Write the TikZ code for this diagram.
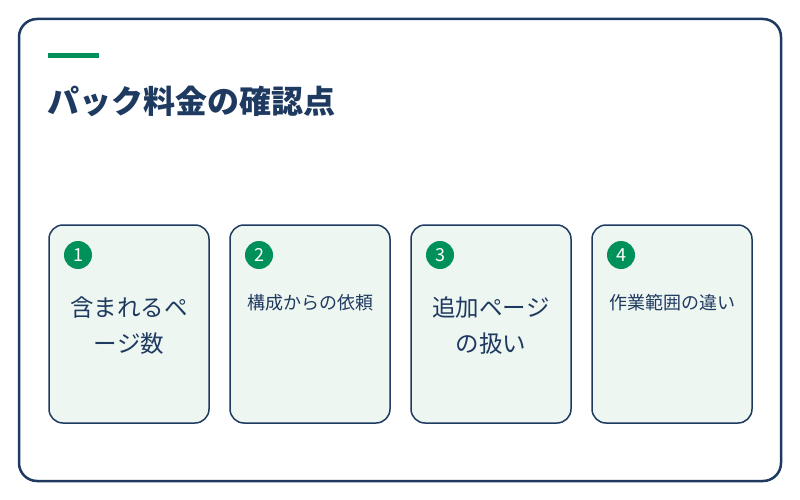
\documentclass[tikz,border=0pt]{standalone}
\usepackage{fontspec}
\setmainfont{Noto Sans CJK JP}
\definecolor{navy}{HTML}{1F3A60}
\definecolor{accent}{HTML}{00905A}
\definecolor{cardfill}{HTML}{EEF6F1}
\begin{document}
\begin{tikzpicture}[x=1pt,y=-1pt,
  frame/.style={draw=navy,line width=2.5pt,rounded corners=18pt,fill=white},
  card/.style={draw=navy,line width=1.5pt,rounded corners=14pt,fill=cardfill},
  badge/.style={circle,fill=accent,minimum size=28pt,inner sep=0pt,text=white,font=\fontsize{18}{18}\selectfont},
  bigtxt/.style={text=navy,align=center,font=\fontsize{23.5}{36}\selectfont},
  smalltxt/.style={text=navy,align=center,font=\fontsize{18}{20}\selectfont}]
\useasboundingbox (0,0) rectangle (800,500);
\draw[frame] (19,19) rectangle (781,481);
\fill[accent] (48,53) rectangle (99,58);
\node[anchor=west,inner sep=0pt,text=navy,font=\fontsize{32}{32}\selectfont\bfseries] (title) at (47,101) {パック料金の確認点};
% cards
\draw[card] (49,225) rectangle (209,423);
\draw[card] (230,225) rectangle (390,423);
\draw[card] (411,225) rectangle (571,423);
\draw[card] (592,225) rectangle (752,423);
\node[badge] (b1) at (78,255) {1};
\node[badge] (b2) at (259,255) {2};
\node[badge] (b3) at (440,255) {3};
\node[badge] (b4) at (621,255) {4};
\node[bigtxt] (t1) at (129,326) {含まれるペ\\ージ数};
\node[smalltxt] (t2) at (310,303) {構成からの依頼};
\node[bigtxt] (t3) at (491,326) {追加ページ\\の扱い};
\node[smalltxt] (t4) at (672,303) {作業範囲の違い};
\end{tikzpicture}
\end{document}
